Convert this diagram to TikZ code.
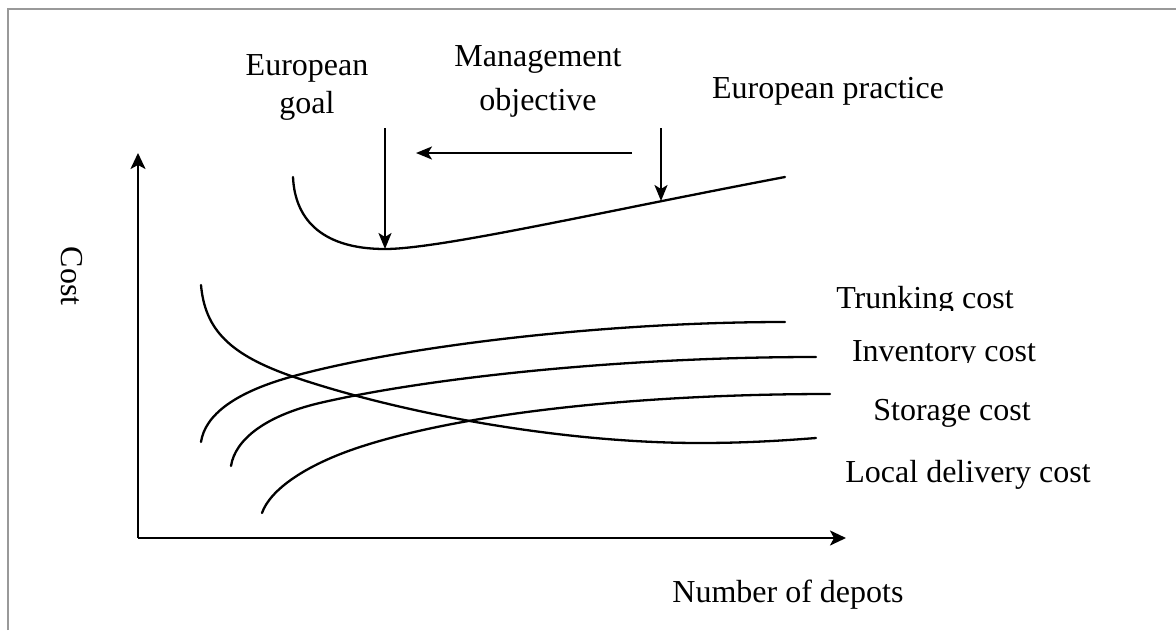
\documentclass[tikz,border=0pt]{standalone}
\usepackage{fontspec}
\setmainfont{Liberation Serif}
\usetikzlibrary{arrows.meta}
\begin{document}
\begin{tikzpicture}[x=1pt,y=-1pt,
  lbl/.style={font=\fontsize{32}{38}\selectfont, inner sep=0pt, anchor=base},
  crv/.style={line width=2.3pt, line cap=round},
  axisline/.style={line width=2.3pt, -{Stealth[length=16pt,width=15pt,inset=4pt]}},
  arr/.style={line width=2.3pt, -{Stealth[length=16pt,width=13pt,inset=4pt]}},
  framebox/.style={line width=2.5pt, draw=black!40}
]
\useasboundingbox (0,0) rectangle (1176,630);
\fill[white] (0,0) rectangle (1176,630);
% open frame (top and left edges only)
\draw[framebox] (8,630) -- (8,9) -- (1176,9);

% axes
\coordinate (O) at (138,538);
\coordinate (ytip) at (138,153);
\coordinate (xtip) at (846,538);
\draw[axisline] (O) -- (ytip);
\draw[axisline] (O) -- (xtip);

% total cost curve
\draw[crv] (293,177) .. controls (295,222) and (325,249) .. (385,249)
  .. controls (440,249) and (600,212) .. (785,177);

% rising cost curves
\draw[crv] (201,442) .. controls (205,415) and (235,392) .. (294,376)
  .. controls (400,347) and (600,322) .. (785,322);
\draw[crv] (231,466) .. controls (235,440) and (265,415) .. (324,402)
  .. controls (430,378) and (620,357) .. (816,357);
\draw[crv] (262,513) .. controls (270,490) and (305,465) .. (360,447)
  .. controls (470,411) and (650,394) .. (830,394);
% falling cost curve
\draw[crv] (201,285) .. controls (205,330) and (230,355) .. (294,377)
  .. controls (400,413) and (560,443) .. (700,443)
  .. controls (750,443) and (790,440) .. (816,438);

% pointer arrows
\coordinate (goalTop) at (385,128);
\coordinate (goalMin) at (385,249);
\coordinate (mgmtFrom) at (632,153);
\coordinate (mgmtTo) at (416,153);
\coordinate (pracTop) at (661,128);
\coordinate (pracPt) at (661,201);
\draw[arr] (goalTop) -- (goalMin);
\draw[arr] (mgmtFrom) -- (mgmtTo);
\draw[arr] (pracTop) -- (pracPt);

% labels
\node[lbl] (goalA) at (307,75) {European};
\node[lbl] (goalB) at (307,113) {goal};
\node[lbl] (mgmtA) at (538,66) {Management};
\node[lbl] (mgmtB) at (538,110) {objective};
\node[lbl] (prac) at (828,98) {European practice};
\begin{scope}
  \clip (800,270) rectangle (1100,310);
  \node[lbl] (trunk) at (925,308) {Trunking cost};
\end{scope}
\begin{scope}
  \clip (800,320) rectangle (1100,362);
  \node[lbl] (inv) at (944,361) {Inventory cost};
\end{scope}
\node[lbl] (stor) at (952,420) {Storage cost};
\node[lbl] (local) at (968,482) {Local delivery cost};
\node[lbl] (depots) at (788,602) {Number of depots};
\node[font=\fontsize{32}{38}\selectfont, inner sep=0pt, rotate=-90] (cost) at (72,276) {Cost};
\end{tikzpicture}
\end{document}
